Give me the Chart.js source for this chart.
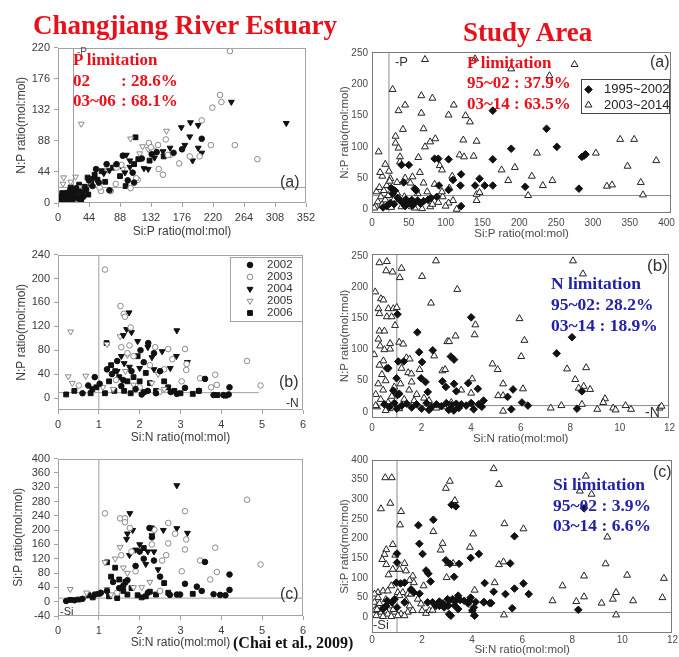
<!DOCTYPE html>
<html>
<head>
<meta charset="utf-8">
<script src="https://cdn.jsdelivr.net/npm/chart.js@4.4.1/dist/chart.umd.min.js"></script>
<style>
  body { margin:0; width:679px; height:657px; overflow:hidden; position:relative; background:#fff;
         font-family:"Liberation Sans", Arial, sans-serif; }
  canvas { position:absolute; }
  .t { position:absolute; white-space:pre; line-height:1; }
  .head { font-family:"Liberation Serif","Times New Roman",serif; font-weight:bold; color:#e8101a; font-size:27px; }
  .note { position:absolute; font-family:"Liberation Serif","Times New Roman",serif; font-weight:bold; font-size:17px; white-space:pre; }
  .note span { display:inline-block; }
  .red { color:#e8101a; }
  .blue { color:#2222a8; }
  .lab { color:#333; font-family:"Liberation Sans", Arial, sans-serif; }
</style>
</head>
<body>
<script>
// ---------- Changjiang River Estuary, 2002-2006 (Chai et al., 2009) ----------
// panel (a): [Si:P, N:P]
const estA_2002 = [[2,6],[5,10],[8,4],[11,14],[14,8],[17,18],[19,3],[23,11],[26,21],[29,6],[32,16],[36,9],[40,19],[44,32],[49,24],[54,48],[58,29],[69,55],[73,18],[83,55],[99,32],[106,43],[108,29],[119,63],[133,69],[164,71],[176,76],[204,91],[92,67],[140,72]];
const estA_2003 = [[244,215],[230,153],[232,143],[219,135],[204,117],[217,82],[251,82],[283,62],[201,66],[172,56],[159,68],[142,82],[129,85],[136,74],[149,40],[143,48],[113,33],[111,35],[103,21],[82,27],[75,17],[61,17],[59,22],[83,50],[90,54],[187,66],[153,90],[156,68],[132,79]];
const estA_2004 = [[246,143],[324,113],[188,114],[199,110],[175,107],[187,94],[204,71],[199,78],[191,60],[180,82],[159,78],[149,73],[137,64],[122,49],[128,48],[97,68],[102,60],[102,51],[95,43],[89,53],[73,46],[65,42],[50,35]];
const estA_2005 = [[33,112],[103,91],[154,102],[8,36],[25,37],[7,27],[18,30],[120,80],[116,70],[92,48],[70,47],[45,30],[128,76],[30,22]];
const estA_2006 = [[110,93],[3,3],[6,14],[9,7],[12,2],[15,12],[18,22],[21,5],[24,15],[27,9],[30,26],[33,4],[35,13],[38,23],[42,36],[47,27],[52,40],[56,33],[62,45],[67,30],[78,50],[88,38],[96,24],[108,55],[114,62],[130,60],[150,66],[43,12],[20,10]];
// panel (b): [Si:N, N:P]
const estB_2002 = [[0.6,8],[0.74,21],[0.9,35],[1.02,24],[1.2,48],[1.32,40],[1.45,62],[1.6,30],[1.8,45],[2.02,80],[2.1,60],[2.21,92],[2.35,75],[2.5,45],[2.76,10],[2.91,7],[3.11,17],[3.6,32],[3.81,5],[4.05,5],[4.18,6],[4.2,18],[2.2,12],[1.9,15],[2.4,8],[3.45,12],[1.55,20],[2.05,6]];
const estB_2003 = [[1.15,215],[1.53,154],[1.61,141],[1.64,136],[1.78,118],[2.7,82],[3.11,82],[3.15,57],[3.14,47],[3.48,33],[3.85,39],[3.89,22],[3.75,18],[3.03,28],[4.63,62],[4.96,21],[0.51,21],[1.55,85],[1.75,88],[1.85,70],[2.25,55],[2.38,85],[2.6,48],[2.8,65],[2.48,10],[1.42,30],[2.0,18],[1.7,75]];
const estB_2004 = [[1.74,143],[1.68,115],[1.8,110],[1.6,105],[2.91,113],[1.95,95],[2.2,85],[2.3,68],[2.55,78],[2.9,70],[3.17,60],[1.55,70],[1.75,52],[2.0,50],[1.45,45],[2.35,48],[2.75,50],[1.62,58]];
const estB_2005 = [[0.31,111],[0.25,36],[0.35,25],[0.68,37],[1.52,103],[1.2,90],[1.65,45],[1.85,22],[2.3,25],[1.35,15],[2.6,15],[1.1,18],[1.7,72],[2.45,40]];
const estB_2006 = [[0.2,6],[0.4,12],[0.8,8],[0.84,15],[0.94,18],[1.19,92],[1.15,8],[1.25,28],[1.3,55],[1.38,12],[1.5,35],[1.62,12],[1.7,28],[1.78,8],[1.85,35],[2.0,28],[2.1,10],[2.15,42],[2.25,25],[2.4,12],[2.6,28],[2.7,18],[2.85,12],[3.0,8],[3.3,7],[3.45,12],[3.9,5],[4.1,4],[1.4,45],[1.95,70]];
// panel (c): [Si:N, Si:P]
const estC_2002 = [[0.2,2],[0.4,4],[0.6,8],[0.9,20],[1.05,25],[1.2,30],[1.35,55],[1.5,38],[1.7,60],[1.9,100],[2.0,140],[2.24,206],[2.3,180],[2.1,120],[2.35,115],[2.5,70],[2.74,19],[2.91,20],[2.99,20],[3.11,50],[3.4,42],[3.52,30],[3.6,111],[3.81,21],[3.97,19],[4.1,18],[4.2,33],[4.2,76],[2.2,25],[1.6,45]];
const estC_2003 = [[1.15,247],[1.52,233],[1.64,233],[1.64,222],[1.76,206],[2.36,201],[2.7,220],[2.87,190],[3.14,174],[3.11,146],[2.7,163],[3.11,253],[3.85,151],[3.48,115],[3.89,83],[3.73,62],[3.03,85],[4.63,285],[4.96,104],[1.55,130],[1.8,140],[2.3,160],[2.55,115],[2.65,130],[1.45,25],[2.5,30],[1.9,85]];
const estC_2004 = [[2.91,325],[1.76,247],[1.83,200],[2.58,200],[2.91,205],[3.17,192],[1.7,190],[1.68,175],[2.0,160],[2.2,140],[2.35,140],[2.15,105],[2.45,90],[1.75,130],[1.9,145],[2.3,185]];
const estC_2005 = [[0.3,35],[0.7,25],[1.15,110],[1.52,152],[1.4,120],[1.6,95],[1.85,40],[2.05,40],[1.3,20],[2.25,55],[1.7,80],[1.2,35]];
const estC_2006 = [[0.3,5],[0.5,6],[0.75,18],[0.85,12],[1.0,22],[1.2,110],[1.25,15],[1.3,70],[1.4,95],[1.5,62],[1.6,30],[1.65,55],[1.8,38],[1.95,18],[2.05,12],[2.15,15],[2.25,28],[2.4,20],[2.6,52],[2.7,25],[3.3,22],[1.45,10],[1.7,20],[2.1,150],[2.3,205]];

// ---------- Study area, 1995-2002 vs 2003-2014 ----------
// panel (a): [Si:P, N:P]
const studyA_9502 = [[164,158],[237,129],[251,100],[189,97],[290,88],[288,86],[285,84],[281,33],[208,36],[164,80],[164,38],[153,38],[146,49],[140,38],[121,56],[120,38],[110,47],[104,80],[104,31],[121,5],[85,81],[90,81],[91,38],[88,20],[40,71],[50,71],[43,43],[26,34],[31,30],[58,33],[76,15],[38,14],[42,10],[46,16],[50,12],[54,15],[58,11],[62,14],[66,9],[70,13],[35,18],[30,8],[25,10],[20,5],[28,25],[60,30],[45,5],[55,6],[15,3],[80,18]];
const studyA_0314 = [[72,240],[140,241],[189,225],[275,232],[241,214],[28,192],[67,182],[45,167],[82,178],[111,167],[36,158],[104,151],[127,150],[133,140],[67,154],[42,128],[70,129],[32,117],[32,106],[36,98],[79,108],[86,113],[72,100],[124,111],[142,109],[119,87],[125,84],[9,92],[224,90],[304,90],[337,112],[356,112],[347,69],[386,78],[319,37],[326,39],[365,43],[368,23],[176,63],[194,67],[217,53],[232,38],[245,46],[185,46],[212,22],[18,72],[23,61],[14,53],[38,84],[38,76],[63,83],[65,59],[92,70],[95,63],[105,34],[109,53],[138,85],[142,24],[142,14],[146,27],[115,0],[110,14],[104,10],[11,59],[25,49],[34,43],[52,42],[70,42],[79,4],[68,1],[90,11],[54,4],[5,5],[8,12],[12,20],[16,30],[20,38],[6,28],[10,35],[14,8],[18,15],[22,22],[26,3],[30,16],[34,26],[40,4],[44,20],[48,8],[58,2],[62,25],[75,28],[82,8],[96,20],[100,5],[3,2],[24,45],[45,50],[55,52],[85,40],[95,28]];
// panel (b): [Si:N, N:P]
const studyB_9502 = [[1.03,157],[1.83,128],[1.9,96],[2.02,80],[2.45,99],[3.18,89],[3.31,84],[4.0,152],[4.27,37],[3.88,46],[5.69,36],[5.47,24],[5.62,4],[6.05,15],[6.29,10],[4.5,18],[4.43,8],[7.45,94],[8.07,120],[8.47,33],[8.27,5],[0.66,70],[1.06,81],[1.28,81],[1.1,29],[0.99,54],[0.86,34],[1.98,54],[2.16,48],[2.25,32],[2.84,49],[2.98,40],[3.31,45],[3.4,33],[0.5,12],[0.7,8],[0.9,14],[1.0,5],[1.2,10],[1.4,13],[1.6,7],[1.8,12],[2.0,5],[2.2,14],[2.4,8],[2.6,12],[2.8,9],[3.0,14],[3.1,3],[3.2,11],[3.4,13],[3.5,6],[3.6,12],[3.8,10],[4.0,14],[4.1,4],[4.3,12],[3.3,2],[2.3,3],[1.03,27],[0.6,70]];
const studyB_0314 = [[0.3,240],[0.6,242],[0.57,227],[0.83,225],[1.12,216],[1.19,231],[2.02,218],[2.58,243],[2.38,175],[3.44,197],[8.11,243],[8.51,222],[0.13,193],[0.36,182],[0.46,180],[0.26,166],[0.66,166],[0.86,166],[1.0,168],[0.3,158],[0.6,153],[0.79,153],[0.93,139],[0.3,130],[0.5,130],[0.26,117],[0.33,106],[0.73,110],[0.73,101],[1.1,112],[1.26,109],[0.09,92],[0.46,82],[1.19,70],[1.46,63],[1.59,61],[1.39,87],[1.52,85],[2.51,90],[2.84,66],[2.95,68],[3.04,113],[3.11,113],[3.37,122],[4.17,140],[4.14,124],[4.04,53],[5.95,150],[6.15,115],[6.02,89],[6.09,37],[4.86,77],[5.07,68],[5.29,45],[5.09,26],[5.29,26],[5.29,1],[7.87,69],[8.64,71],[8.2,52],[8.34,38],[8.54,41],[8.8,36],[9.4,21],[9.33,15],[9.09,4],[9.73,6],[9.83,3],[10.23,10],[10.45,4],[7.21,6],[7.64,10],[8.47,12],[11.6,6],[11.68,9],[1.92,68],[0.2,8],[0.35,20],[0.45,35],[0.55,50],[0.25,45],[0.4,60],[0.15,28],[0.65,15],[0.8,25],[0.9,40],[0.7,5],[1.15,45],[1.3,20],[1.5,35],[1.7,18],[1.6,48],[1.8,28],[2.1,22],[2.3,18],[2.6,6],[2.9,8],[3.6,35],[4.0,30],[3.2,15],[1.1,5],[0.3,75],[0.5,100],[0.15,10],[0.55,2]];
// panel (c): [Si:N, Si:P]
const studyC_9502 = [[1.85,234],[1.89,187],[2.02,161],[2.45,248],[2.16,119],[2.25,111],[2.34,91],[3.18,286],[3.35,282],[2.95,145],[3.11,136],[3.28,103],[3.48,136],[4.27,161],[3.94,151],[5.69,206],[5.52,137],[5.69,73],[6.05,86],[6.26,59],[5.33,59],[4.86,65],[4.5,87],[4.7,36],[4.46,38],[5.6,23],[8.24,19],[8.47,277],[4.01,18],[4.1,4],[3.15,4],[3.44,21],[1.0,162],[1.0,139],[0.97,88],[1.14,86],[1.3,88],[1.56,71],[0.61,42],[0.8,38],[0.57,29],[0.44,21],[1.67,63],[1.9,60],[2.22,38],[2.42,38],[2.69,40],[2.55,29],[2.82,35],[3.02,46],[3.08,42],[3.21,46],[3.35,42],[3.44,55],[3.52,44],[3.68,42],[3.88,42],[3.94,50],[3.84,35],[4.14,39],[4.47,39],[4.76,36],[2.69,29],[2.88,25],[3.04,29],[3.08,8],[4.07,25],[1.3,38],[0.9,46],[1.0,25],[3.3,30]];
const studyC_0314 = [[4.86,378],[5.07,338],[8.54,359],[8.77,313],[8.3,321],[0.53,355],[0.79,355],[0.36,276],[0.73,290],[1.16,269],[1.12,235],[2.95,328],[3.11,346],[3.31,297],[2.45,218],[2.82,188],[2.74,171],[4.04,212],[3.91,178],[5.29,238],[6.05,225],[9.4,204],[9.33,136],[8.47,105],[10.19,107],[11.66,99],[7.61,80],[7.21,42],[8.16,40],[8.47,52],[9.17,36],[9.62,46],[9.75,63],[10.43,42],[11.6,50],[9.75,6],[5.27,6],[5.07,134],[5.25,141],[4.9,88],[3.04,137],[3.24,137],[2.98,101],[0.83,185],[0.57,172],[0.5,160],[0.41,147],[0.57,134],[0.93,158],[1.3,137],[1.1,122],[1.36,118],[1.63,105],[1.5,94],[1.67,88],[0.66,108],[0.83,122],[4.1,69],[0.24,63],[0.44,67],[0.1,59],[0.24,50],[0.77,80],[0.63,67],[1.03,63],[1.23,63],[1.1,55],[1.43,59],[1.56,59],[1.36,42],[1.5,29],[1.83,46],[2.06,80],[1.96,34],[0.1,38],[0.24,29],[0.5,25],[0.7,29],[0.1,17],[0.37,13],[0.63,8],[0.9,13],[1.16,8],[1.43,13],[1.63,17],[0.17,4],[0.44,2],[0.77,2],[1.03,4],[1.3,4],[2.0,17],[2.16,10],[2.29,17],[2.42,18],[4.0,17],[4.07,8],[0.3,35],[0.55,45],[0.2,20],[0.85,20]];

// ---------- axis ticks and limitation thresholds ----------
const estSiPTicks   = [0,44,88,132,176,220,264,308,352];
const estNPTicksA   = [0,44,88,132,176,220];
const estSiNTicks   = [0,1,2,3,4,5,6];
const estNPTicksB   = [0,40,80,120,160,200,240];
const estSiPTicksC  = [-40,0,40,80,120,160,200,240,280,320,360,400];
const studySiPTicks = [0,50,100,150,200,250,300,350,400];
const studyNPTicks  = [0,50,100,150,200,250];
const studySiNTicks = [0,2,4,6,8,10,12];
const studySiPTicksC= [0,50,100,150,200,250,300,350,400];

const estSiPLimit = 22,  estNPLimitA = 22;   // P limitation lines, panel (a)
const estSiNLimit = 1,   estNPLimitB = 9,  estNLineEnd = 4.92; // N limitation, panel (b)
const estSiPLimitC = 10;                     // Si limitation, panel (c)
const studySiPLimit = 23, studyNPLimitA = 22;
const studySiNLimit = 1,  studyNPLimitB = 10, studySiPLimitC = 12;

const estYears = ['2002','2003','2004','2005','2006'];
const studyPeriods = ['1995~2002','2003~2014'];

// ---------- drawing helpers ----------
const pts = arr => arr.map(([x, y]) => ({x, y}));

const ink = '#111', grey = '#8a8a8a';
const sty = {
  dot:     {pointStyle:'circle',   pointRadius:2.8, pointBackgroundColor:ink,    pointBorderColor:ink,  pointBorderWidth:1},
  ring:    {pointStyle:'circle',   pointRadius:2.8, pointBackgroundColor:'#fff', pointBorderColor:grey, pointBorderWidth:1},
  down:    {pointStyle:'triangle', pointRotation:180, pointRadius:3.4, pointBackgroundColor:ink, pointBorderColor:ink, pointBorderWidth:1},
  downOpen:{pointStyle:'triangle', pointRotation:180, pointRadius:3.4, pointBackgroundColor:'#fff', pointBorderColor:grey, pointBorderWidth:1},
  square:  {pointStyle:'rect',     pointRadius:3.4, pointBackgroundColor:ink,    pointBorderColor:ink,  pointBorderWidth:1},
  diamond: {pointStyle:'rectRot',  pointRadius:3.8, pointBackgroundColor:ink,    pointBorderColor:ink,  pointBorderWidth:1},
  tri:     {pointStyle:'triangle', pointRadius:4,   pointBackgroundColor:'#fff', pointBorderColor:'#222', pointBorderWidth:1}
};
const series = (label, arr, s) => Object.assign({label, data:pts(arr), showLine:false}, s);
const rule = (x0, y0, x1, y1, color) => ({label:'', data:[{x:x0,y:y0},{x:x1,y:y1}], showLine:true,
  pointRadius:0, borderColor:color, borderWidth:1, order:10});

// plot frame drawn around the chart area
const framePlugin = {
  id:'frame',
  afterDatasetsDraw(chart, args, o) {
    const {ctx, chartArea:a} = chart;
    ctx.save();
    ctx.strokeStyle = o.color || '#999'; ctx.lineWidth = 1;
    ctx.strokeRect(Math.round(a.left) + 0.5, Math.round(a.top) + 0.5,
                   Math.round(a.right - a.left) - 1, Math.round(a.bottom - a.top) - 1);
    ctx.restore();
  }
};
// boxed legend placed inside the plot
const boxLegendPlugin = {
  id:'boxLegend',
  afterDraw(chart, args, o) {
    if (!o || !o.items) return;
    const ctx = chart.ctx, ox = chart.canvas.offsetLeft, oy = chart.canvas.offsetTop;
    const [x0, y0, x1, y1] = o.box;
    ctx.save();
    ctx.fillStyle = '#fff';
    ctx.fillRect(x0 - ox, y0 - oy, x1 - x0, y1 - y0);
    ctx.strokeStyle = o.border; ctx.lineWidth = 1;
    ctx.strokeRect(x0 - ox + 0.5, y0 - oy + 0.5, x1 - x0 - 1, y1 - y0 - 1);
    ctx.font = o.font; ctx.textBaseline = 'middle'; ctx.textAlign = 'left';
    o.items.forEach((di, i) => {
      const ds = chart.data.datasets[di];
      const y = o.rows[i] - oy;
      ctx.fillStyle = ds.pointBackgroundColor; ctx.strokeStyle = ds.pointBorderColor; ctx.lineWidth = ds.pointBorderWidth;
      Chart.helpers.drawPoint(ctx, {pointStyle:ds.pointStyle, rotation:ds.pointRotation || 0,
        radius:ds.pointRadius, borderWidth:ds.pointBorderWidth}, o.markerX - ox, y);
      ctx.fillStyle = o.color;
      ctx.fillText(ds.label, o.textX - ox, y);
    });
    ctx.restore();
  }
};

function axis(ticks, min, max, title, f, isX) {
  return {
    type:'linear', min, max,
    afterBuildTicks: s => { s.ticks = ticks.map(v => ({value:v})); },
    afterFit: s => { if (isX) s.height = f.xH; else s.width = f.yW; },
    grid:{display:f.tickLen > 0, drawOnChartArea:false, drawTicks:f.tickLen > 0, tickLength:f.tickLen, color:f.frame},
    border:{display:false},
    ticks:{color:f.tickColor, font:{family:'Liberation Sans', size:f.tickSize}, padding:isX ? (f.xPad ?? f.tickPad) : f.tickPad,
           maxRotation:0, autoSkip:false},
    title:{display:true, text:title, color:f.titleColor, padding:0,
           font:{family:'Liberation Sans', size:f.titleSize}}
  };
}

// area = [left, top, right, bottom] of the plotting region on the page
function panel(area, f, datasets, xs, ys, legend) {
  const [L, T, R, B] = area;
  const cv = document.createElement('canvas');
  const left = L - f.yW, top = T - f.padT;
  cv.width = R + f.padR - left; cv.height = B + f.xH - top;
  cv.style.left = left + 'px'; cv.style.top = top + 'px';
  document.body.appendChild(cv);
  new Chart(cv, {
    type:'scatter',
    data:{datasets},
    options:{
      responsive:false, animation:false, events:[],
      layout:{autoPadding:false, padding:{left:0, bottom:0, top:f.padT, right:f.padR}},
      scales:{
        x: axis(xs[0], xs[1], xs[2], xs[3], f, true),
        y: axis(ys[0], ys[1], ys[2], ys[3], f, false)
      },
      plugins:{legend:{display:false}, tooltip:{enabled:false}, frame:{color:f.frame}, boxLegend:legend || {}}
    },
    plugins:[framePlugin, boxLegendPlugin]
  });
}

const estStyle = {tickLen:4, tickPad:4, tickSize:11, titleSize:12, tickColor:'#3a3a3a', titleColor:'#3a3a3a',
                  frame:'#a3a3a3', padT:8, padR:14};
const studyStyle = {tickLen:0, tickPad:4, tickSize:10, titleSize:11.5, tickColor:'#4a4a4a', titleColor:'#4a4a4a',
                    frame:'#7a7a7a', padT:8, yW:34};
const estRule = '#a0a0a0', studyRule = '#8c8c8c';

const estSets = (d02, d03, d04, d05, d06) => [
  series(estYears[0], d02, sty.dot), series(estYears[1], d03, sty.ring),
  series(estYears[2], d04, sty.down), series(estYears[3], d05, sty.downOpen),
  series(estYears[4], d06, sty.square)];
const studySets = (a, b) => [series(studyPeriods[0], a, sty.diamond), series(studyPeriods[1], b, sty.tri)];

// ---- Changjiang River Estuary ----
panel([58,45,306,203], Object.assign({yW:44, xH:36}, estStyle),
  estSets(estA_2002, estA_2003, estA_2004, estA_2005, estA_2006).concat([
    rule(estSiPLimit, 0, estSiPLimit, 220, estRule), rule(0, estNPLimitA, 352, estNPLimitA, estRule)]),
  [estSiPTicks, 0, 352, 'Si:P ratio(mol:mol)'], [estNPTicksA, 0, 220, 'N:P ratio(mol:mol)']);

panel([58,252,303,410], Object.assign({yW:44, xH:35}, estStyle),
  estSets(estB_2002, estB_2003, estB_2004, estB_2005, estB_2006).concat([
    rule(estSiNLimit, -20, estSiNLimit, 240, estRule), rule(0, estNPLimitB, estNLineEnd, estNPLimitB, estRule)]),
  [estSiNTicks, 0, 6, 'Si:N ratio(mol:mol)'], [estNPTicksB, -20, 240, 'N:P ratio(mol:mol)'],
  {items:[0,1,2,3,4], box:[230,257,303,322], rows:[265,277,289,301,313], markerX:250, textX:267,
   font:'11.5px "Liberation Sans"', border:'#a3a3a3', color:'#333'});

panel([58,456,303,616], Object.assign({yW:47, xH:34}, estStyle),
  estSets(estC_2002, estC_2003, estC_2004, estC_2005, estC_2006).concat([
    rule(estSiNLimit, -40, estSiNLimit, 400, estRule), rule(0, estSiPLimitC, 6, estSiPLimitC, estRule)]),
  [estSiNTicks, 0, 6, 'Si:N ratio(mol:mol)'], [estSiPTicksC, -40, 400, 'Si:P ratio(mol:mol)']);

// ---- Study area ----
panel([372,50,673,213], Object.assign({xH:28, padR:6}, studyStyle),
  studySets(studyA_9502, studyA_0314).concat([
    rule(studySiPLimit, -6, studySiPLimit, 252, studyRule), rule(0, studyNPLimitA, 406, studyNPLimitA, studyRule)]),
  [studySiPTicks, 0, 406, 'Si:P ratio(mol:mol)'], [studyNPTicks, -6, 252, 'N:P ratio(mol:mol)'],
  {items:[0,1], box:[581,79,670,114], rows:[89.5,105], markerX:588.5, textX:604,
   font:'13px "Liberation Sans"', border:'#444', color:'#222'});

panel([372,252,674,418], Object.assign({xH:28, padR:5}, studyStyle),
  studySets(studyB_9502, studyB_0314).concat([
    rule(studySiNLimit, -10, studySiNLimit, 254, studyRule), rule(0, studyNPLimitB, 12, studyNPLimitB, studyRule)]),
  [studySiNTicks, 0, 12, 'Si:N ratio(mol:mol)'], [studyNPTicks, -10, 254, 'N:P ratio(mol:mol)']);

panel([372,458,674,633], Object.assign({xH:24, padR:5, xPad:1}, studyStyle),
  studySets(studyC_9502, studyC_0314).concat([
    rule(studySiNLimit, -40, studySiNLimit, 400, studyRule), rule(0, studySiPLimitC, 12, studySiPLimitC, studyRule)]),
  [studySiNTicks, 0, 12, 'Si:N ratio(mol:mol)'], [studySiPTicksC, -40, 400, 'Si:P ratio(mol:mol)']);
</script>

<!-- headings -->
<div class="t head" style="left:33px; top:12px;">Changjiang River Estuary</div>
<div class="t head" style="left:463px; top:19px;">Study Area</div>

<!-- limitation labels and panel tags -->
<div class="t lab" style="left:77px; top:47px; font-size:10px; color:#555;">-P</div>
<div class="t lab" style="left:395px; top:55px; font-size:13px;">-P</div>
<div class="t lab" style="left:286px; top:397px; font-size:12px;">-N</div>
<div class="t lab" style="left:645px; top:405px; font-size:14px;">-N</div>
<div class="t lab" style="left:60px; top:606px; font-size:11px;">-Si</div>
<div class="t lab" style="left:373px; top:618px; font-size:13px;">-Si</div>

<div class="t lab" style="left:280px; top:174px; font-size:16px;">(a)</div>
<div class="t lab" style="left:279px; top:374px; font-size:16px;">(b)</div>
<div class="t lab" style="left:280px; top:586px; font-size:16px;">(c)</div>
<div class="t lab" style="left:650px; top:54px; font-size:16px;">(a)</div>
<div class="t lab" style="left:647px; top:257px; font-size:17px;">(b)</div>
<div class="t lab" style="left:653px; top:464px; font-size:16px;">(c)</div>

<div class="note red" style="left:73px; top:50px; line-height:20.5px;">P limitation
<span style="width:48px">02</span>: 28.6%
<span style="width:48px">03~06</span>: 68.1%</div>

<div class="note red" style="left:467px; top:53px; line-height:20.3px;">P limitation
95~02 : 37.9%
03~14 : 63.5%</div>

<div class="note blue" style="left:551px; top:273px; line-height:21px; font-size:17.5px;">N limitation
95~02: 28.2%
03~14 : 18.9%</div>

<div class="note blue" style="left:553px; top:474px; line-height:20.5px; font-size:17.5px;">Si limitation
95~02 : 3.9%
03~14 : 6.6%</div>

<div class="t" style="left:233px; top:635px; font-family:'Liberation Serif','Times New Roman',serif; font-weight:bold; font-size:16px; color:#111;">(Chai et al., 2009)</div>
</body>
</html>
